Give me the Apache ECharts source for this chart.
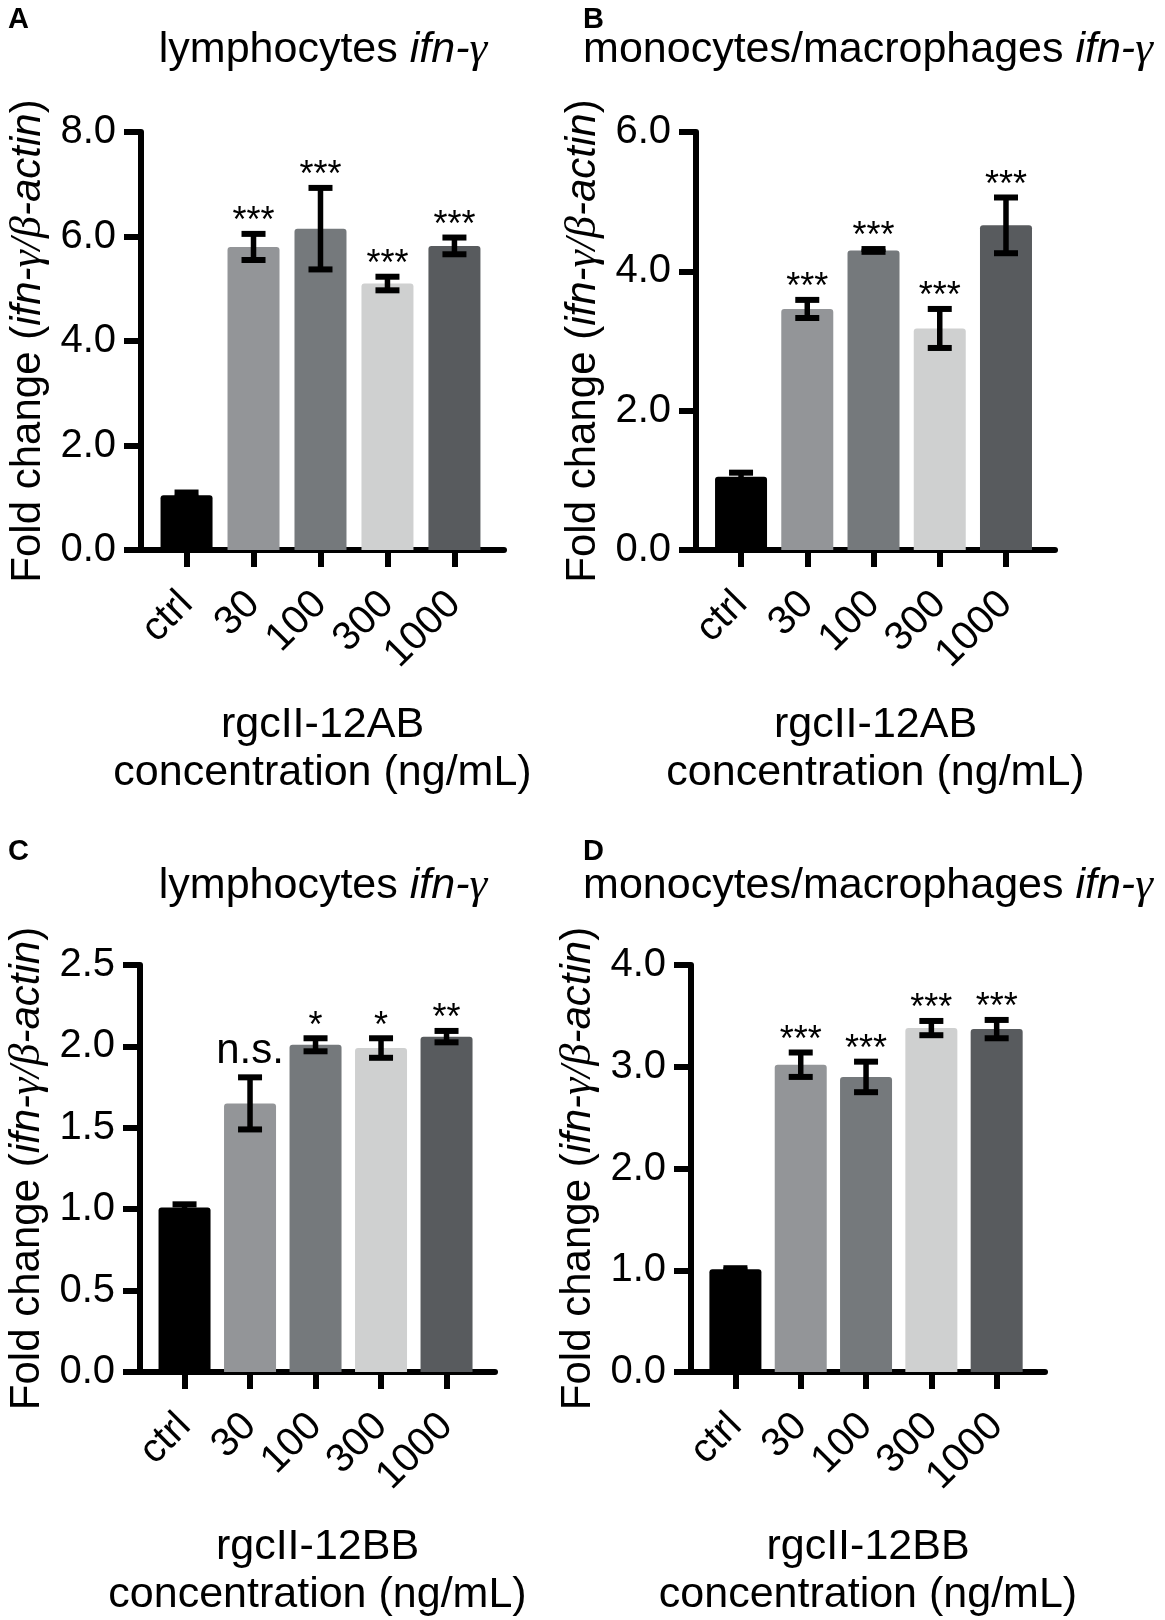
<!DOCTYPE html>
<html lang="en">
<head>
    <meta charset="UTF-8">
    <title>ifn-gamma fold change</title>
    <script src="https://cdn.jsdelivr.net/npm/echarts/dist/echarts.min.js"></script>
    <style>
        body { margin: 0; background: #fff; }
        #chart { width: 1165px; height: 1620px; }
    </style>
</head>
<body>
<div id="chart"></div>
<script>
    var FONT = "'Liberation Sans', Arial, Helvetica, sans-serif";
    var SERIF = "'Liberation Serif', 'Times New Roman', serif";

    // data
    var categories = ['ctrl', '30', '100', '300', '1000'];
    var barColors = ['#000000', '#939598', '#75797c', '#cfd0d0', '#585b5e'];

    var meanA = [1.05, 5.80, 6.15, 5.10, 5.82];
    var errA  = [0.05, 0.25, 0.78, 0.13, 0.16];
    var sigA  = ['', '***', '***', '***', '***'];

    var meanB = [1.05, 3.46, 4.30, 3.18, 4.66];
    var errB  = [0.06, 0.13, 0.02, 0.28, 0.40];
    var sigB  = ['', '***', '***', '***', '***'];

    var meanC = [1.01, 1.65, 2.01, 1.99, 2.06];
    var errC  = [0.02, 0.16, 0.04, 0.06, 0.035];
    var sigC  = ['', 'n.s.', '*', '*', '**'];

    var meanD = [1.01, 3.02, 2.90, 3.38, 3.37];
    var errD  = [0.01, 0.12, 0.15, 0.07, 0.09];
    var sigD  = ['', '***', '***', '***', '***'];

    var yTicksA = { max: 8, interval: 2 };
    var yTicksB = { max: 6, interval: 2 };
    var yTicksC = { max: 2.5, interval: 0.5 };
    var yTicksD = { max: 4, interval: 1 };

    var panels = [
        { letter: 'A', grid: { left: 141, top: 132, width: 363, height: 418 }, y: yTicksA,
          mean: meanA, err: errA, sig: sigA, title: '{n|lymphocytes }{i|ifn-}{g|γ}', titleX: 323, titleY: 50,
          letterX: 8, letterY: 20, xName: 'rgcII-12AB\nconcentration (ng/mL)' },
        { letter: 'B', grid: { left: 696, top: 132, width: 359, height: 418 }, y: yTicksB,
          mean: meanB, err: errB, sig: sigB, title: '{n|monocytes/macrophages }{i|ifn-}{g|γ}', titleX: 868, titleY: 50,
          letterX: 583, letterY: 20, xName: 'rgcII-12AB\nconcentration (ng/mL)' },
        { letter: 'C', grid: { left: 140, top: 965, width: 355, height: 412 }, y: yTicksC,
          mean: meanC, err: errC, sig: sigC, title: '{n|lymphocytes }{i|ifn-}{g|γ}', titleX: 323, titleY: 886,
          letterX: 8, letterY: 852, xName: 'rgcII-12BB\nconcentration (ng/mL)' },
        { letter: 'D', grid: { left: 691, top: 965, width: 354, height: 412 }, y: yTicksD,
          mean: meanD, err: errD, sig: sigD, title: '{n|monocytes/macrophages }{i|ifn-}{g|γ}', titleX: 868, titleY: 886,
          letterX: 583, letterY: 852, xName: 'rgcII-12BB\nconcentration (ng/mL)' }
    ];

    var axisLine = { show: true, onZero: false, lineStyle: { color: '#000', width: 6 } };
    var axisTick = { show: true, length: 17, lineStyle: { color: '#000', width: 6 } };

    var richText = {
        n: { fontSize: 42, fontFamily: FONT, color: '#000' },
        i: { fontSize: 42, fontFamily: FONT, color: '#000', fontStyle: 'italic' },
        g: { fontSize: 44, fontFamily: SERIF, color: '#000', fontStyle: 'italic' }
    };

    function errorRender(sigs) {
        return function (params, api) {
            var i = api.value(0), m = api.value(1), e = api.value(2);
            var hi = api.coord([i, m + e]);
            var lo = api.coord([i, m - e]);
            var cx = hi[0], cap = 12;
            var st = { stroke: '#000', lineWidth: 6 };
            var children = [
                { type: 'line', shape: { x1: cx, y1: hi[1], x2: cx, y2: lo[1] }, style: { stroke: '#000', lineWidth: 5.5 } },
                { type: 'line', shape: { x1: cx - cap, y1: hi[1], x2: cx + cap, y2: hi[1] }, style: st },
                { type: 'line', shape: { x1: cx - cap, y1: lo[1], x2: cx + cap, y2: lo[1] }, style: st }
            ];
            var s = sigs[params.dataIndex];
            if (s) {
                var star = /^\*+$/.test(s);
                children.push({
                    type: 'text',
                    style: {
                        text: s, x: cx, y: hi[1] - (star ? 11.5 : 26),
                        align: 'center', verticalAlign: 'middle',
                        fontSize: star ? 36 : 42, fontFamily: FONT, fill: '#000'
                    }
                });
            }
            return { type: 'group', children: children };
        };
    }

    var option = { animation: false, grid: [], xAxis: [], yAxis: [], series: [], graphic: [] };

    panels.forEach(function (p, k) {
        option.grid.push(p.grid);
        option.xAxis.push({
            gridIndex: k, type: 'value', min: -0.68, max: 4.74,
            axisLine: axisLine,
            axisTick: Object.assign({ customValues: [0, 1, 2, 3, 4] }, axisTick),
            axisLabel: {
                customValues: [0, 1, 2, 3, 4], rotate: 45, margin: 48,
                fontSize: 40, fontFamily: FONT, color: '#000',
                formatter: function (v) { return categories[v]; }
            },
            splitLine: { show: false },
            name: p.xName, nameLocation: 'middle', nameGap: 151,
            nameTextStyle: { fontSize: 43, fontFamily: FONT, color: '#000', lineHeight: 48 }
        });
        option.yAxis.push({
            gridIndex: k, type: 'value', min: 0, max: p.y.max, interval: p.y.interval,
            axisLine: axisLine, axisTick: axisTick,
            axisLabel: {
                margin: 25, fontSize: 40, fontFamily: FONT, color: '#000',
                formatter: function (v) { return v.toFixed(1); }
            },
            splitLine: { show: false },
            name: '{n|Fold change (}{i|ifn-}{g|γ/β}{i|-actin}{n|)}',
            nameLocation: 'middle', nameRotate: 90, nameGap: 91,
            nameTextStyle: { fontSize: 42, fontFamily: FONT, color: '#000', rich: richText }
        });
        option.series.push({
            type: 'bar', xAxisIndex: k, yAxisIndex: k, barWidth: 52,
            data: p.mean.map(function (v, i) {
                return { value: [i, v], itemStyle: { color: barColors[i], borderRadius: [3, 3, 0, 0] } };
            })
        });
        option.series.push({
            type: 'custom', xAxisIndex: k, yAxisIndex: k, clip: false, z: 5,
            renderItem: errorRender(p.sig),
            data: p.mean.map(function (v, i) { return [i, v, p.err[i]]; })
        });
        // panel letter, drawn the same way as the titles
        option.graphic.push({
            type: 'text', x: p.letterX, y: p.letterY,
            style: {
                text: '{l|' + p.letter + '}', align: 'left', verticalAlign: 'middle', fill: '#000',
                rich: { l: { fontSize: 29, fontWeight: 'bold', fontFamily: FONT, fill: '#000' } }
            }
        });
        option.graphic.push({
            type: 'text', x: p.titleX, y: p.titleY,
            style: {
                text: p.title, align: 'center', verticalAlign: 'middle', fill: '#000',
                fontSize: 42, fontFamily: FONT,
                rich: {
                    n: { fontSize: 43, fontFamily: FONT, fill: '#000' },
                    i: { fontSize: 43, fontFamily: FONT, fill: '#000', fontStyle: 'italic' },
                    g: { fontSize: 45, fontFamily: SERIF, fill: '#000', fontStyle: 'italic' }
                }
            }
        });
    });

    var chart = echarts.init(document.getElementById('chart'));
    chart.setOption(option);
</script>
</body>
</html>
